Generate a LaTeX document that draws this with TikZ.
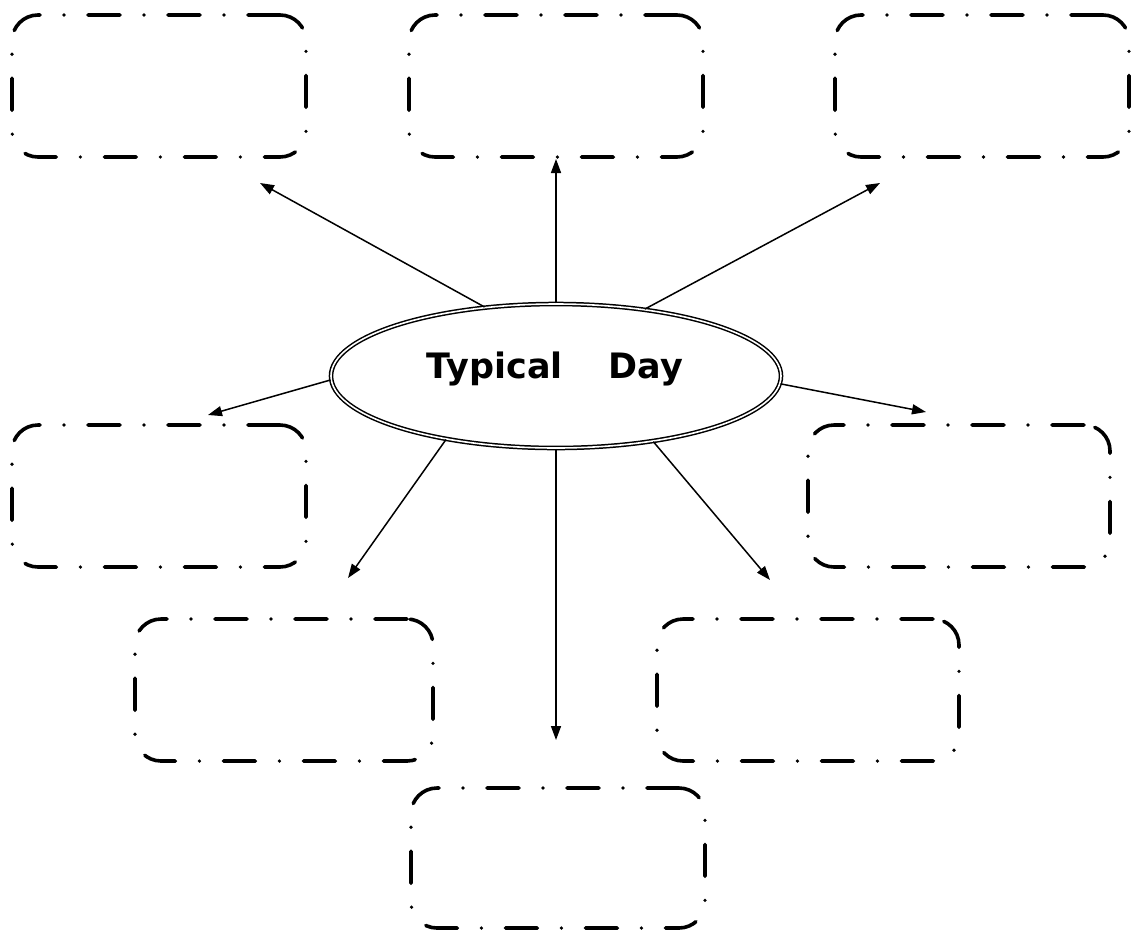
\documentclass[tikz,border=0pt]{standalone}
\usepackage{fontspec}
\usepackage{tikz}
\usetikzlibrary{shapes.geometric,arrows.meta}
\newfontfamily\daysans{DejaVu Sans}

\begin{document}
\begin{tikzpicture}[x=0.5pt, y=-0.5pt,
		dayslot/.style={draw, rectangle, rounded corners=13pt, line width=1.8pt, line cap=round,
			dash pattern=on 16pt off 12pt on 0pt off 12pt, minimum width=147pt, minimum height=71pt, inner sep=0pt},
		dayring/.style={draw, ellipse, double, line width=0.75pt, double distance=0.8pt,
			minimum width=225pt, minimum height=72pt, inner sep=0pt},
		spoke/.style={line width=0.75pt, -{Triangle[length=7pt,width=5pt]}}]
			%%%%% START %%%%%
			
			\useasboundingbox (0, 0) rectangle (1138, 932);
			
			\node[dayring] (day) at (556, 376) {};
			\node[font=\daysans\bfseries\fontsize{17.5}{20}\selectfont, anchor=base] (daytext) at (555, 378) {Typical\hspace{23pt}Day};
			
			\node[dayslot] (boxTL) at (159, 86) {};
			\node[dayslot] (boxTM) at (556, 86) {};
			\node[dayslot] (boxTR) at (982, 86) {};
			\node[dayslot] (boxML) at (159, 496) {};
			\node[dayslot, minimum width=151pt] (boxMR) at (959, 496) {};
			\node[dayslot, minimum width=149pt] (boxLL) at (284, 690) {};
			\node[dayslot, minimum width=151pt] (boxLR) at (808, 690) {};
			\node[dayslot, minimum height=70pt] (boxBM) at (558, 858) {};
			
			\coordinate (tipTL) at (260, 183);
			\coordinate (tipTM) at (556, 159);
			\coordinate (tipTR) at (880, 183);
			\coordinate (tipML) at (208, 415);
			\coordinate (tipMR) at (926, 412);
			\coordinate (tipLL) at (348, 578);
			\coordinate (tipLR) at (770, 580);
			\coordinate (tipBM) at (556, 740);
			
			\draw[spoke] (day.136) -- (tipTL);
			\draw[spoke] (day.north) -- (tipTM);
			\draw[spoke] (day.37) -- (tipTR);
			\draw[spoke] (day.181) -- (tipML);
			\draw[spoke] (day.358) -- (tipMR);
			\draw[spoke] (day.210) -- (tipLL);
			\draw[spoke] (day.326) -- (tipLR);
			\draw[spoke] (day.south) -- (tipBM);
			
			%%%%% END %%%%%
\end{tikzpicture}
\end{document}
